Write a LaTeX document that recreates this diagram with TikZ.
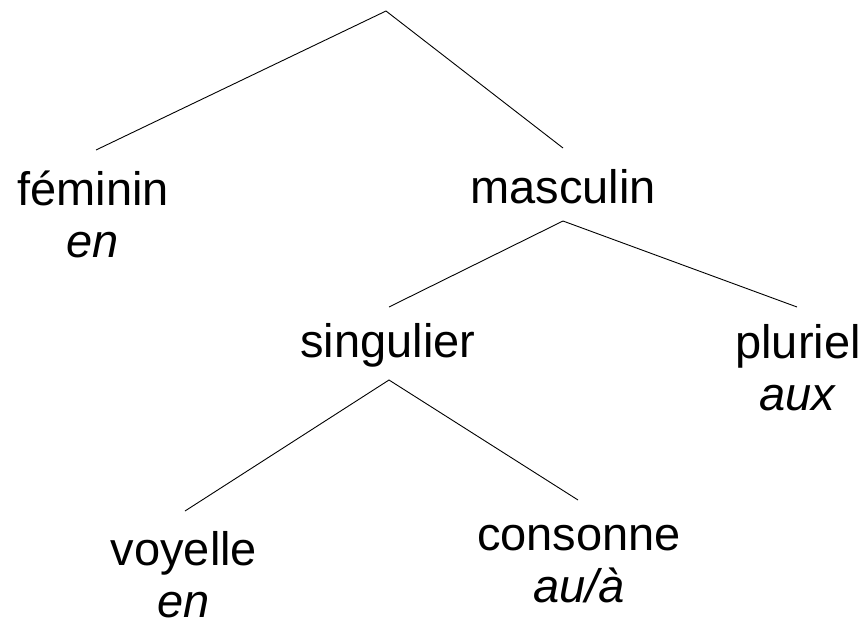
\documentclass[tikz,border=0pt]{standalone}
\usepackage{fontspec}
\setmainfont{Liberation Sans}

\begin{document}
\begin{tikzpicture}[x=1pt,y=-1pt,
	lbl/.style={align=center, inner sep=0pt, anchor=base, font=\fontsize{47}{52}\selectfont},
	branch/.style={line width=0.9pt}]

	\useasboundingbox (0,0) rectangle (865,621);

	% Labels (base = last line)
	\node[lbl] (feminin) at (93,257) {féminin\\\textit{en}};
	\node[lbl] (masculin) at (563,203) {masculin};
	\node[lbl] (singulier) at (388,357) {singulier};
	\node[lbl] (pluriel) at (798,410) {pluriel\\\textit{aux}};
	\node[lbl] (voyelle) at (184,617) {voyelle\\\textit{en}};
	\node[lbl] (consonne) at (579,602) {consonne\\\textit{au/à}};

	% Branch points
	\coordinate (root) at (386,11);
	\coordinate (femTop) at (96,150);
	\coordinate (mascTop) at (563,148);
	\coordinate (mascFork) at (563,221);
	\coordinate (singTop) at (389,307);
	\coordinate (plurTop) at (797,307);
	\coordinate (singFork) at (389,380);
	\coordinate (voyTop) at (185,511);
	\coordinate (consTop) at (578,500);

	% Draw tree
	\draw[branch] (femTop) -- (root) -- (mascTop);
	\draw[branch] (singTop) -- (mascFork) -- (plurTop);
	\draw[branch] (voyTop) -- (singFork) -- (consTop);

\end{tikzpicture}
\end{document}
